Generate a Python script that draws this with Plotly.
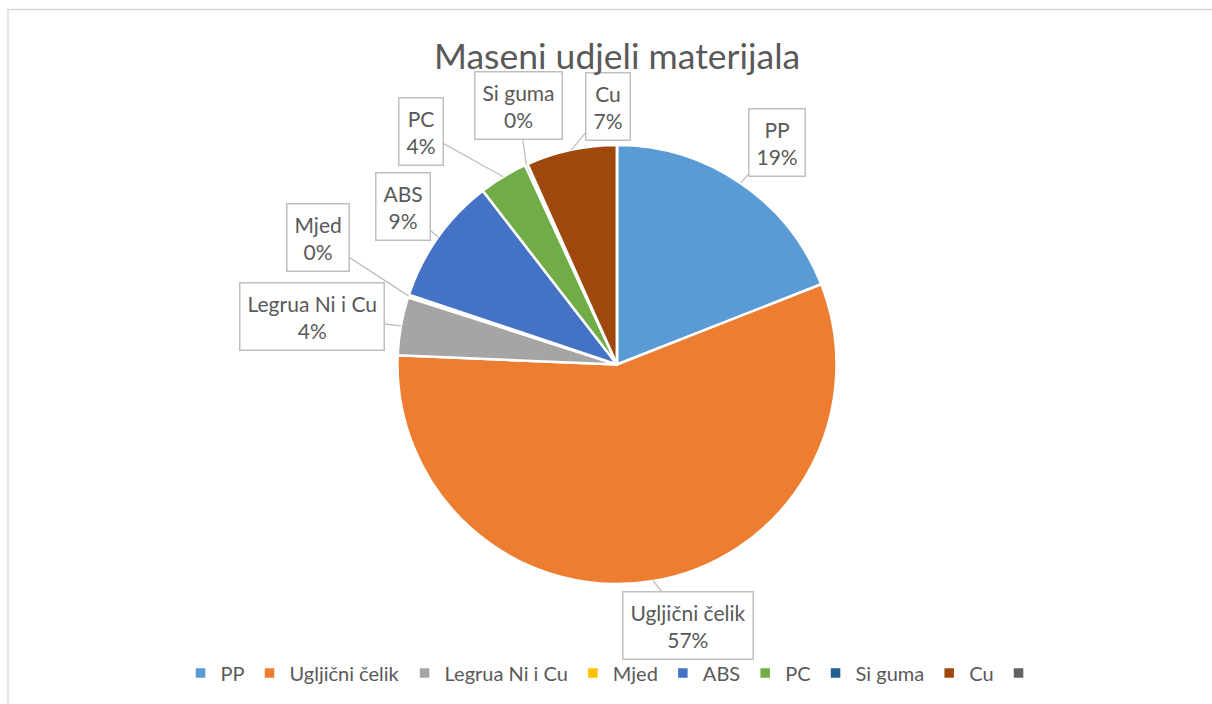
import math
import plotly.graph_objects as go

# ---- data ----
labels = ["PP", "Ugljični čelik", "Legrua Ni i Cu", "Mjed", "ABS", "PC", "Si guma", "Cu", " "]
values = [19.1, 56.8, 4.3, 0.2, 9.4, 3.6, 0.2, 6.7, 0]
colors = ["#5B9BD5", "#ED7D31", "#A5A5A5", "#FFC000", "#4472C4", "#70AD47", "#255E91", "#9E480E", "#636363"]
title_text = "Maseni udjeli materijala"

# ---- layout / style ----
W, H = 1212, 704
CX, CY, R = 617, 364.5, 219.5           # pie centre and radius in pixels
# label box centres (pixels), one per labelled slice
box_pos = [(777, 142), (688, 625), (312, 316), (318, 237), (403, 206),
           (421, 131), (518, 106), (608, 106)]
TEXT_COLOR = "#595959"
FONT = "Lato"

fig = go.Figure()
fig.add_trace(go.Pie(
    labels=labels, values=values, sort=False, direction="clockwise", rotation=0,
    marker=dict(colors=colors, line=dict(color="white", width=2.5)),
    textinfo="none", hoverinfo="label+percent",
    domain=dict(x=[(CX - R) / W, (CX + R) / W], y=[(H - CY - R) / H, (H - CY + R) / H]),
))

total = sum(values)
cum = 0.0
annotations = []
for i, v in enumerate(values):
    if i >= len(box_pos):
        break
    theta = 2 * math.pi * (cum + v / 2) / total
    cum += v
    hx = CX + R * math.sin(theta)
    hy = CY - R * math.cos(theta)
    bx, by = box_pos[i]
    pct = round(v / total * 100)
    annotations.append(dict(
        x=hx / W, y=1 - hy / H, xref="paper", yref="paper",
        text=f"{labels[i]}<br>{pct}%", showarrow=True, arrowhead=0,
        arrowcolor="#BFBFBF", arrowwidth=1.3, ax=bx - hx, ay=by - hy,
        bgcolor="white", bordercolor="#BFBFBF", borderwidth=1.5, borderpad=7,
        font=dict(family=FONT, size=21, color=TEXT_COLOR),
    ))

annotations.append(dict(
    x=617 / W, y=1 - 55 / H, xref="paper", yref="paper", showarrow=False,
    text=title_text, font=dict(family=FONT, size=35.5, color=TEXT_COLOR),
    xanchor="center", yanchor="middle",
))

fig.update_layout(
    width=W, height=H, margin=dict(l=0, r=0, t=0, b=0),
    paper_bgcolor="white", plot_bgcolor="white",
    annotations=annotations,
    showlegend=True,
    legend=dict(orientation="h", x=615 / W, xanchor="center", y=1 - 673 / H, yanchor="middle",
                font=dict(family=FONT, size=20, color=TEXT_COLOR), itemwidth=30,
                traceorder="normal"),
    shapes=[dict(type="rect", xref="paper", yref="paper", x0=8 / W, x1=1.02,
                 y0=-0.02, y1=1 - 9.5 / H, line=dict(color="#D9D9D9", width=1.3))],
)

fig.write_html("out.html")
